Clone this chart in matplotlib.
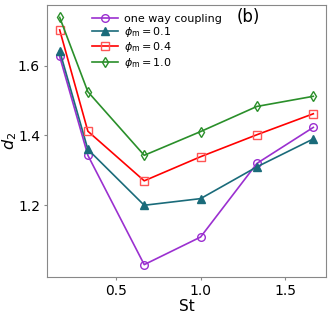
import matplotlib
matplotlib.use("Agg")
import matplotlib.pyplot as plt
import numpy as np

St = [1/6, 1/3, 2/3, 1.0, 4/3, 5/3]
one_way = [1.626, 1.343, 1.030, 1.109, 1.320, 1.423]
phi_01 = [1.642, 1.360, 1.200, 1.219, 1.310, 1.390]
phi_04 = [1.702, 1.412, 1.270, 1.339, 1.402, 1.462]
phi_10 = [1.738, 1.525, 1.343, 1.411, 1.483, 1.512]

labels = ["one way coupling", r"$\phi_{\rm m}=0.1$", r"$\phi_{\rm m}=0.4$", r"$\phi_{\rm m}=1.0$"]
xticks = [0.5, 1.0, 1.5]
yticks = [1.2, 1.4, 1.6]

fig = plt.figure(figsize=(3.32, 3.16), dpi=100)
ax = fig.add_axes([47/332, 1 - 277/316, 279/332, 272/316])

ms = 5.5
ax.plot(St, one_way, color="#9b30d0", marker="o", mfc="none", ms=ms, lw=1.2, label=labels[0])
ax.plot(St, phi_01, color="#1a6b7a", marker="^", ms=ms, lw=1.2, label=labels[1])
ax.plot(St, phi_04, color="red", marker="s", mfc="none", mec="#ff5555", ms=ms, lw=1.2, label=labels[2])
ax.plot(St, phi_10, color="#2a8f2a", marker="d", mfc="none", ms=ms, lw=1.2, label=labels[3])

ax.set_xticks(xticks)
ax.set_yticks(yticks)
ax.tick_params(labelsize=10, length=2.5, pad=2.5, color="#888888")
for s in ax.spines.values():
    s.set_color("#888888")
ax.set_xlabel("St", fontsize=11, labelpad=1)
ax.set_ylabel(r"$d_2$", fontsize=11.5)
ax.yaxis.set_label_coords(-0.1, 0.5)
ax.legend(loc="upper left", bbox_to_anchor=(0.146, 0.985), frameon=False, fontsize=8,
          handlelength=2.3, handletextpad=0.6, labelspacing=0.12, borderaxespad=0)
ax.text(0.68, 0.99, "(b)", transform=ax.transAxes, fontsize=12, va="top", ha="left")

fig.savefig("out.png", dpi=100)
